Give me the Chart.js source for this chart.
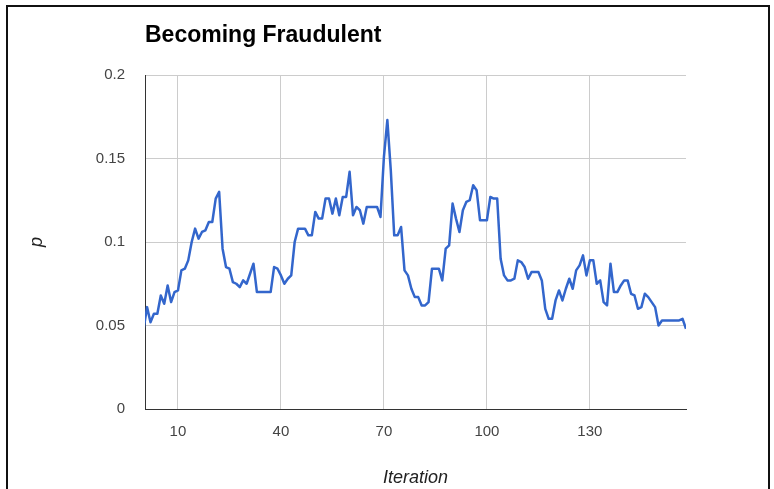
<!DOCTYPE html>
<html>
<head>
<meta charset="utf-8">
<title>Becoming Fraudulent</title>
<script src="https://cdn.jsdelivr.net/npm/chart.js@4.4.1/dist/chart.umd.min.js"></script>
<style>
  html, body { margin: 0; padding: 0; background: #fff; }
  #wrap { position: relative; width: 774px; height: 489px; overflow: hidden; }
  #myChart { display: block; }
  #frame { position: absolute; left: 6px; top: 5px; width: 760px; height: 600px; border: 2px solid #111; pointer-events: none; }
</style>
</head>
<body>
<div id="wrap">
  <canvas id="myChart" width="774" height="489"></canvas>
  <div id="frame"></div>
</div>
<script>
// probability p of becoming fraudulent, one value per iteration starting at 0
const firstIteration = 0;
const pValues = [
  0.048, 0.061, 0.052, 0.057, 0.057, 0.068, 0.063, 0.074, 0.064, 0.070,
  0.071, 0.083, 0.084, 0.089, 0.100, 0.108, 0.102, 0.106, 0.107, 0.112,
  0.112, 0.126, 0.130, 0.096, 0.085, 0.084, 0.076, 0.075, 0.073, 0.077,
  0.075, 0.081, 0.087, 0.070, 0.070, 0.070, 0.070, 0.070, 0.085, 0.084,
  0.080, 0.075, 0.078, 0.080, 0.100, 0.108, 0.108, 0.108, 0.104, 0.104,
  0.118, 0.114, 0.114, 0.126, 0.126, 0.117, 0.126, 0.116, 0.127, 0.127,
  0.142, 0.116, 0.121, 0.119, 0.111, 0.121, 0.121, 0.121, 0.121, 0.115,
  0.151, 0.173, 0.143, 0.104, 0.104, 0.109, 0.083, 0.080, 0.072, 0.067,
  0.067, 0.062, 0.062, 0.064, 0.084, 0.084, 0.084, 0.077, 0.096, 0.098,
  0.123, 0.114, 0.106, 0.119, 0.124, 0.125, 0.134, 0.131, 0.113, 0.113,
  0.113, 0.127, 0.126, 0.126, 0.090, 0.080, 0.077, 0.077, 0.078, 0.089,
  0.088, 0.085, 0.078, 0.082, 0.082, 0.082, 0.077, 0.060, 0.054, 0.054,
  0.065, 0.071, 0.065, 0.072, 0.078, 0.072, 0.083, 0.086, 0.092, 0.080,
  0.089, 0.089, 0.075, 0.077, 0.064, 0.062, 0.087, 0.070, 0.070, 0.074,
  0.077, 0.077, 0.069, 0.068, 0.060, 0.061, 0.069, 0.067, 0.064, 0.061,
  0.050, 0.053, 0.053, 0.053, 0.053, 0.053, 0.053, 0.054, 0.048
];

const xTicks = [10, 40, 70, 100, 130];
const xTickLabels = ['10', '40', '70', '100', '130'];
const yTicks = [0, 0.05, 0.1, 0.15, 0.2];
const yTickLabels = ['0', '0.05', '0.1', '0.15', '0.2'];

Chart.defaults.font.family = "'Liberation Sans', Arial, sans-serif";

const ctx = document.getElementById('myChart').getContext('2d');

var graphData = {
  type: 'line',
  data: {
    datasets: [{
      label: 'p',
      data: pValues.map((p, i) => ({ x: firstIteration + i, y: p })),
      borderColor: '#3366cc',
      borderWidth: 2.5,
      borderJoinStyle: 'round',
      pointRadius: 0,
      tension: 0,
      fill: false,
      clip: { left: 0, top: 5, right: 0, bottom: 5 }
    }]
  },
  options: {
    responsive: false,
    animation: false,
    layout: { padding: { top: 0, right: 88, bottom: 0, left: 0 } },
    plugins: {
      legend: { display: false },
      tooltip: { enabled: false },
      title: {
        display: true,
        text: 'Becoming Fraudulent',
        align: 'start',
        fullSize: false,
        color: '#000',
        font: { size: 23, weight: 'bold' },
        padding: { top: 22, bottom: 25.4 }
      }
    },
    scales: {
      x: {
        type: 'linear',
        min: 0.4,
        max: 158,
        afterBuildTicks: s => { s.ticks = xTicks.map(v => ({ value: v })); },
        afterFit: s => { s.height = 80; },
        grid: { color: '#cccccc', drawTicks: false },
        border: { display: true, color: '#333', width: 1 },
        ticks: {
          padding: 14,
          color: '#444',
          font: { size: 15 },
          maxRotation: 0,
          autoSkip: false,
          callback: (v, i) => xTickLabels[i]
        },
        title: {
          display: true,
          text: 'Iteration',
          color: '#222',
          font: { size: 18, style: 'italic' },
          padding: { top: 0, bottom: 0 }
        }
      },
      y: {
        min: 0,
        max: 0.2,
        afterBuildTicks: s => { s.ticks = yTicks.map(v => ({ value: v })); },
        afterFit: s => { s.width = 145; },
        grid: { color: '#cccccc', drawTicks: false },
        border: { display: true, color: '#333', width: 1 },
        ticks: {
          padding: 20,
          color: '#444',
          font: { size: 15 },
          callback: (v, i) => yTickLabels[i]
        },
        title: {
          display: true,
          text: 'p',
          color: '#222',
          font: { size: 18, style: 'italic' },
          padding: { top: 26, bottom: 0 }
        }
      }
    }
  }
};

const myChart = new Chart(ctx, graphData);
</script>
</body>
</html>
